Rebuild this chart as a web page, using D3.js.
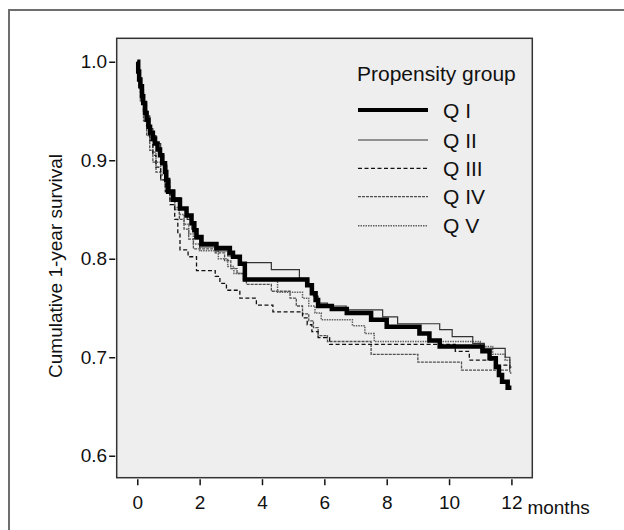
<!DOCTYPE html>
<html lang="en">
<head>
  <meta charset="utf-8">
  <title>Cumulative 1-year survival</title>
  <script src="https://d3js.org/d3.v7.min.js"></script>
  <style>
    body { margin: 0; background: #fff; }
    svg text { font-family: "Liberation Sans", Arial, sans-serif; fill: #111; }
    .axis text { font-size: 19px; }
    .axis line { stroke: #111; stroke-width: 1.5; }
  </style>
</head>
<body>
<script>
  // step points [month, survival]
  var qI = [[0,1.0],[0.03,0.99],[0.06,0.982],[0.1,0.975],[0.15,0.965],[0.19,0.958],[0.25,0.948],[0.3,0.941],
    [0.36,0.934],[0.41,0.928],[0.5,0.922],[0.57,0.917],[0.65,0.911],[0.73,0.905],[0.8,0.897],[0.89,0.888],
    [0.93,0.88],[0.99,0.868],[1.15,0.86],[1.37,0.851],[1.58,0.844],[1.74,0.836],[1.83,0.829],[1.9,0.822],
    [2.06,0.815],[2.54,0.811],[2.97,0.806],[3.07,0.802],[3.29,0.795],[3.45,0.779],[5.45,0.773],[5.6,0.765],
    [5.72,0.758],[5.8,0.752],[6.24,0.749],[6.72,0.745],[7.5,0.738],[8.0,0.731],[9.05,0.724],[9.37,0.717],
    [9.7,0.711],[11.07,0.706],[11.3,0.699],[11.5,0.69],[11.6,0.682],[11.7,0.675],[11.88,0.669],[12,0.669]];
  var qII = [[0,1.0],[0.05,0.985],[0.1,0.972],[0.2,0.958],[0.3,0.945],[0.4,0.932],[0.5,0.925],[0.6,0.917],
    [0.75,0.905],[0.85,0.895],[0.95,0.88],[1.05,0.87],[1.2,0.862],[1.4,0.852],[1.6,0.84],[1.75,0.83],
    [1.85,0.82],[2.0,0.812],[2.5,0.808],[2.9,0.803],[3.3,0.796],[4.3,0.789],[5.2,0.78],[5.5,0.772],
    [5.65,0.762],[5.8,0.755],[6.1,0.752],[6.7,0.748],[7.87,0.741],[8.35,0.734],[9.7,0.728],[10.1,0.721],
    [10.76,0.714],[11.13,0.709],[11.8,0.7],[11.95,0.69],[12,0.69]];
  var qIII = [[0,1.0],[0.05,0.98],[0.12,0.965],[0.2,0.95],[0.3,0.935],[0.4,0.92],[0.5,0.905],[0.6,0.893],
    [0.75,0.88],[0.9,0.868],[1.05,0.855],[1.2,0.84],[1.3,0.825],[1.37,0.809],[1.63,0.802],[1.9,0.788],
    [2.5,0.782],[2.65,0.775],[2.86,0.768],[3.29,0.76],[3.82,0.753],[4.35,0.746],[5.3,0.74],[5.45,0.733],
    [5.6,0.726],[5.8,0.72],[6.17,0.713],[10.2,0.706],[10.65,0.697],[11.5,0.692],[11.95,0.688],[12,0.688]];
  var qIV = [[0,1.0],[0.05,0.975],[0.1,0.96],[0.2,0.94],[0.3,0.925],[0.4,0.91],[0.5,0.898],[0.6,0.888],
    [0.75,0.88],[0.9,0.87],[1.05,0.86],[1.2,0.85],[1.35,0.84],[1.5,0.83],[1.65,0.82],[1.8,0.81],
    [2.5,0.806],[2.8,0.798],[3.0,0.79],[3.2,0.785],[3.5,0.774],[4.3,0.767],[4.9,0.76],[5.1,0.752],
    [5.3,0.744],[5.5,0.737],[5.65,0.73],[5.8,0.722],[6.1,0.716],[7.5,0.703],[9.0,0.695],[10.4,0.687],
    [11.95,0.684],[12,0.684]];
  var qV = [[0,1.0],[0.05,0.98],[0.1,0.968],[0.2,0.95],[0.3,0.935],[0.4,0.92],[0.5,0.908],[0.6,0.898],
    [0.75,0.885],[0.9,0.873],[1.05,0.862],[1.2,0.852],[1.35,0.845],[1.5,0.835],[1.65,0.825],[1.8,0.815],
    [2.0,0.808],[2.6,0.8],[2.9,0.792],[3.1,0.785],[3.4,0.778],[4.5,0.766],[5.3,0.76],[5.5,0.752],
    [5.7,0.745],[5.9,0.738],[6.9,0.732],[7.3,0.724],[7.6,0.716],[11.0,0.711],[11.4,0.703],[11.8,0.697],
    [11.95,0.69],[12,0.69]];

  var groupNames = ["Q I", "Q II", "Q III", "Q IV", "Q V"];
  var groupData = [qI, qII, qIII, qIV, qV];
  var xTicks = [0, 2, 4, 6, 8, 10, 12];
  var yTicks = [0.6, 0.7, 0.8, 0.9, 1.0];

  // line looks, one per group
  var styles = [
    {stroke: "#000", width: 4.5, dash: null},
    {stroke: "#333", width: 1.2, dash: null},
    {stroke: "#111", width: 1.3, dash: "4,2.5"},
    {stroke: "#505050", width: 1.3, dash: "3,1"},
    {stroke: "#606060", width: 1.5, dash: "1.5,1"}
  ];

  var W = 624, H = 530;
  var box = {left: 116.7, top: 38.3, right: 532.3, bottom: 477.7};

  var svg = d3.select("body").append("svg")
    .attr("width", W).attr("height", H);

  // outer frame, runs off the right and bottom edges
  svg.append("rect")
    .attr("x", 9).attr("y", 10)
    .attr("width", 700).attr("height", 600)
    .attr("fill", "#fff").attr("stroke", "#6e6e6e").attr("stroke-width", 2);

  var xScale = d3.scaleLinear().domain([-0.66, 12.67]).range([box.left, box.right]);
  var yScale = d3.scaleLinear().domain([0.5777, 1.0238]).range([box.bottom, box.top]);

  svg.append("rect")
    .attr("x", box.left).attr("y", box.top)
    .attr("width", box.right - box.left).attr("height", box.bottom - box.top)
    .attr("fill", "#eeeeee").attr("stroke", "#333").attr("stroke-width", 1.5);

  var line = d3.line()
    .x(function(d) { return xScale(d[0]); })
    .y(function(d) { return yScale(d[1]); })
    .curve(d3.curveStepAfter);

  // draw thin ones first, thick Q I on top
  [3, 4, 2, 1, 0].forEach(function(i) {
    svg.append("path")
      .datum(groupData[i])
      .attr("d", line)
      .attr("fill", "none")
      .attr("stroke", styles[i].stroke)
      .attr("stroke-width", styles[i].width)
      .attr("stroke-dasharray", styles[i].dash)
      .attr("stroke-linejoin", "miter");
  });

  // axes
  var xAxis = d3.axisBottom(xScale).tickValues(xTicks).tickSize(6).tickPadding(10)
    .tickFormat(d3.format("d"));
  var gx = svg.append("g").attr("class", "axis")
    .attr("transform", "translate(0," + (box.bottom + 1.5) + ")")
    .call(xAxis);
  gx.select(".domain").remove();
  gx.selectAll("text").attr("fill", "#111");

  svg.append("text")
    .attr("x", xScale(12) + 16).attr("y", box.bottom + 36)
    .style("font-size", "19px")
    .text("months");

  var yAxis = d3.axisLeft(yScale).tickValues(yTicks).tickSize(6).tickPadding(2)
    .tickFormat(d3.format(".1f"));
  var gy = svg.append("g").attr("class", "axis")
    .attr("transform", "translate(" + (box.left - 1.5) + ",0)")
    .call(yAxis);
  gy.select(".domain").remove();
  gy.selectAll("text").attr("fill", "#111");

  svg.append("text")
    .attr("transform", "translate(62,266) rotate(-90)")
    .attr("text-anchor", "middle")
    .style("font-size", "19px")
    .text("Cumulative 1-year survival");

  // legend
  var leg = svg.append("g");
  leg.append("text")
    .attr("x", 357).attr("y", 81)
    .style("font-size", "21px")
    .text("Propensity group");

  var legY = [110, 140, 168.3, 196.7, 225.7];
  groupNames.forEach(function(name, i) {
    leg.append("line")
      .attr("x1", 358).attr("x2", 428)
      .attr("y1", legY[i]).attr("y2", legY[i])
      .attr("stroke", styles[i].stroke)
      .attr("stroke-width", i === 0 ? 4 : styles[i].width)
      .attr("stroke-dasharray", styles[i].dash);
    leg.append("text")
      .attr("x", 443).attr("y", legY[i] + 7.5)
      .style("font-size", "21px")
      .text(name);
  });
</script>
</body>
</html>
